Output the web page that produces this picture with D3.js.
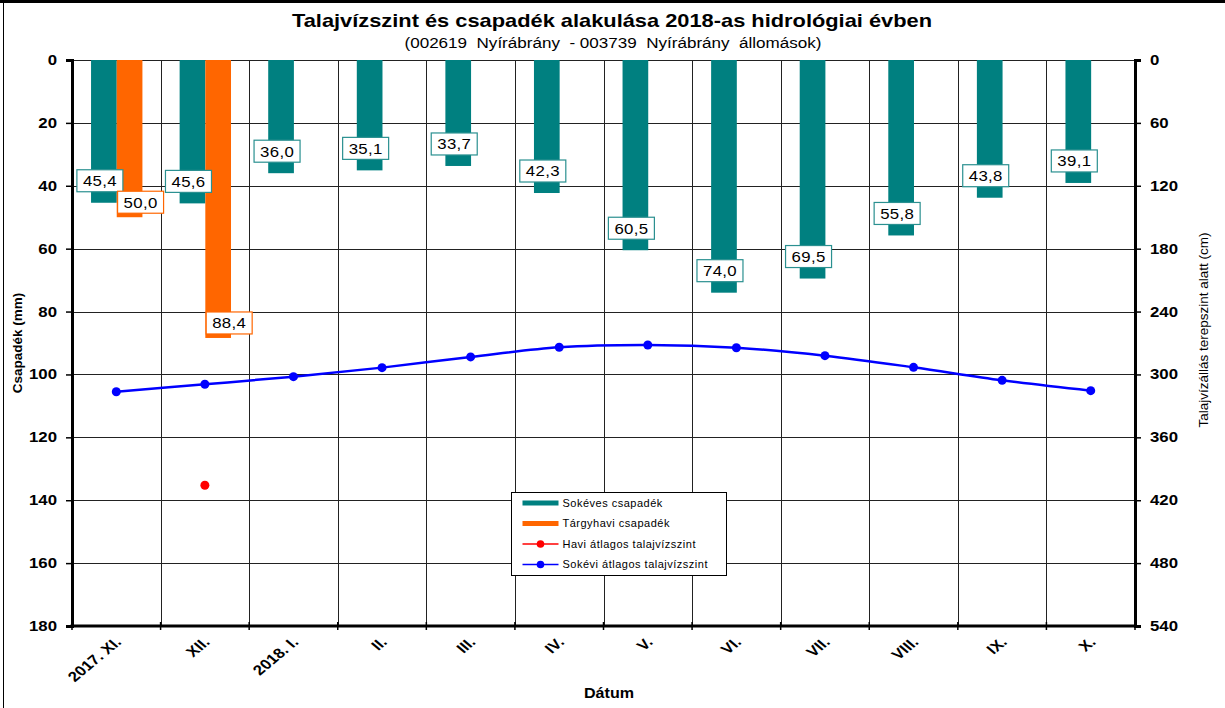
<!DOCTYPE html>
<html>
<head>
<meta charset="utf-8">
<script src="https://cdn.jsdelivr.net/npm/d3@7"></script>
<style>
  body { margin: 0; background: #fff; }
  svg { font-family: "Liberation Sans", Arial, sans-serif; }
</style>
</head>
<body>
<div id="chart"></div>
<script>
var w = 1225, h = 708;
var months = ['2017. XI.', 'XII.', '2018. I.', 'II.', 'III.', 'IV.', 'V.', 'VI.', 'VII.', 'VIII.', 'IX.', 'X.'];
var sokeves = [45.4, 45.6, 36.0, 35.1, 33.7, 42.3, 60.5, 74.0, 69.5, 55.8, 43.8, 39.1];   // mm
var targyhavi = [50.0, 88.4, null, null, null, null, null, null, null, null, null, null]; // mm
var haviSzint = [null, 405.7, null, null, null, null, null, null, null, null, null, null]; // cm
var sokeviSzint = [316.5, 309.4, 302.1, 293.5, 283.3, 274.1, 271.9, 274.5, 282.1, 293.2, 305.6, 315.5]; // cm
var leftTicks = [0, 20, 40, 60, 80, 100, 120, 140, 160, 180];
var rightTicks = [0, 60, 120, 180, 240, 300, 360, 420, 480, 540];

var m = { left: 72, right: 1135, top: 60, bottom: 626 };
var teal = '#008080', orange = '#ff6600';
var sx = 1.2; // the original picture is a bit stretched sideways

var svg = d3.select('#chart').append('svg').attr('width', w).attr('height', h);

// outer frame (top + left only visible)
svg.append('line').attr('x1', 0).attr('x2', w).attr('y1', 1.5).attr('y2', 1.5)
  .attr('stroke', '#000').attr('stroke-width', 3);
svg.append('line').attr('x1', 3.5).attr('x2', 3.5).attr('y1', 0).attr('y2', h)
  .attr('stroke', '#000').attr('stroke-width', 1);

var x = d3.scaleBand().domain(months).range([m.left, m.right]);
var bw = x.bandwidth();
var x1 = d3.scaleBand().domain(['s', 't']).range([bw * 0.215, bw * 0.795]);
var y = d3.scaleLinear().domain([0, 180]).range([m.top, m.bottom]);
var y2 = d3.scaleLinear().domain([0, 540]).range([m.top, m.bottom]);

// grid
svg.append('g').selectAll('line').data(leftTicks).enter().append('line')
  .attr('x1', m.left).attr('x2', m.right)
  .attr('y1', function(d) { return Math.round(y(d)) + 0.5; })
  .attr('y2', function(d) { return Math.round(y(d)) + 0.5; })
  .attr('stroke', '#222').attr('stroke-width', 1);
svg.append('g').selectAll('line').data(months.slice(1)).enter().append('line')
  .attr('x1', function(d) { return Math.round(x(d)) + 0.5; })
  .attr('x2', function(d) { return Math.round(x(d)) + 0.5; })
  .attr('y1', m.top).attr('y2', m.bottom)
  .attr('stroke', '#222').attr('stroke-width', 1);

// bars
var groups = svg.append('g').selectAll('g').data(months).enter().append('g')
  .attr('transform', function(d) { return 'translate(' + x(d) + ',0)'; });
groups.append('rect')
  .attr('x', x1('s')).attr('width', x1.bandwidth())
  .attr('y', y(0)).attr('height', function(d, i) { return y(sokeves[i]) - y(0); })
  .attr('fill', teal);
groups.filter(function(d, i) { return targyhavi[i] != null; }).append('rect')
  .attr('x', x1('t')).attr('width', x1.bandwidth())
  .attr('y', y(0)).attr('height', function(d) { return y(targyhavi[months.indexOf(d)]) - y(0); })
  .attr('fill', orange);

// axes
var left = svg.append('g').attr('transform', 'translate(' + m.left + ',0)')
  .call(d3.axisLeft(y).tickValues(leftTicks).tickSize(6).tickPadding(9));
var right = svg.append('g').attr('transform', 'translate(' + m.right + ',0)')
  .call(d3.axisRight(y2).tickValues(rightTicks).tickSize(6).tickPadding(9));
[left, right].forEach(function(a) {
  a.select('.domain').attr('stroke', '#000').attr('stroke-width', 3);
  a.selectAll('.tick line').attr('stroke', '#000').attr('stroke-width', 1.5);
  a.selectAll('.tick text').attr('font-size', 14).attr('font-weight', 'bold')
    .attr('font-family', '"Liberation Sans", Arial, sans-serif').attr('fill', '#000')
    .attr('x', function() { return +this.getAttribute('x') / sx; })
    .attr('transform', 'scale(' + sx + ',1)');
});
svg.append('line').attr('x1', m.left - 1.5).attr('x2', m.right + 1.5)
  .attr('y1', m.bottom).attr('y2', m.bottom).attr('stroke', '#000').attr('stroke-width', 3);
svg.append('g').selectAll('line').data(months.concat(['end'])).enter().append('line')
  .attr('x1', function(d, i) { return m.left + i * bw; })
  .attr('x2', function(d, i) { return m.left + i * bw; })
  .attr('y1', m.bottom - 4).attr('y2', m.bottom + 4)
  .attr('stroke', '#000').attr('stroke-width', 1.5);

// category labels
svg.append('g').selectAll('text').data(months).enter().append('text')
  .attr('transform', function(d) {
    return 'translate(' + (x(d) + bw / 2 + 6) + ',' + (m.bottom + 17) + ') scale(' + sx + ',1) rotate(-45)';
  })
  .attr('text-anchor', 'end').attr('font-size', 14).attr('font-weight', 'bold')
  .text(function(d) { return d; });

// lines
var line = d3.line()
  .x(function(d, i) { return x(months[i]) + bw / 2; })
  .y(function(d) { return y2(d); })
  .curve(d3.curveCatmullRom);
svg.append('path').attr('d', line(sokeviSzint)).attr('fill', 'none')
  .attr('stroke', '#0000ff').attr('stroke-width', 2.5);
svg.append('g').selectAll('circle').data(sokeviSzint).enter().append('circle')
  .attr('cx', function(d, i) { return x(months[i]) + bw / 2; })
  .attr('cy', function(d) { return y2(d); })
  .attr('r', 4.5).attr('fill', '#0000ff');
svg.append('g').selectAll('circle').data(haviSzint).enter()
  .filter(function(d) { return d != null; }).append('circle')
  .attr('cx', function(d) { return x(months[haviSzint.indexOf(d)]) + bw / 2; })
  .attr('cy', function(d) { return y2(d); })
  .attr('r', 4.5).attr('fill', '#ff0000');

// data labels
function label(cx, cy, v, col) {
  var g = svg.append('g').attr('transform', 'translate(' + cx + ',' + cy + ')');
  g.append('rect').attr('x', -23).attr('y', -11).attr('width', 46).attr('height', 22)
    .attr('fill', '#fff').attr('stroke', col).attr('stroke-width', 1.2);
  g.append('text').attr('text-anchor', 'middle').attr('dy', '0.36em')
    .attr('transform', 'scale(1.12,1)')
    .attr('font-size', 15).attr('letter-spacing', 0.3).attr('fill', '#000')
    .text(d3.format('.1f')(v).replace('.', ','));
}
months.forEach(function(mo, i) {
  label(x(mo) + x1('s') + x1.bandwidth() / 2 - 4, y(sokeves[i]) - 22, sokeves[i], '#2a9090');
  if (targyhavi[i] != null)
    label(x(mo) + x1('t') + x1.bandwidth() / 2 + 11, y(targyhavi[i]) - 15, targyhavi[i], orange);
});

// titles
svg.append('text').attr('x', 612).attr('y', 27).attr('text-anchor', 'middle')
  .attr('font-size', 19).attr('font-weight', 'bold')
  .attr('textLength', 640).attr('lengthAdjust', 'spacingAndGlyphs')
  .text('Talajvízszint és csapadék alakulása 2018-as hidrológiai évben');
svg.append('text').attr('x', 613).attr('y', 48).attr('text-anchor', 'middle')
  .attr('font-size', 14).style('white-space', 'pre')
  .attr('textLength', 417).attr('lengthAdjust', 'spacingAndGlyphs')
  .text('(002619  Nyírábrány  - 003739  Nyírábrány  állomások)');
svg.append('text').attr('transform', 'translate(609,698) scale(1.15,1)').attr('text-anchor', 'middle')
  .attr('font-size', 14).attr('font-weight', 'bold').text('Dátum');
svg.append('text').attr('transform', 'translate(22,343) rotate(-90)').attr('text-anchor', 'middle')
  .attr('font-size', 13.5).attr('font-weight', 'bold').text('Csapadék (mm)');
svg.append('text').attr('transform', 'translate(1208,330) rotate(-90)').attr('text-anchor', 'middle')
  .attr('font-size', 13.5).text('Talajvízállás terepszint alatt (cm)');

// legend
var leg = svg.append('g').attr('transform', 'translate(511.5,492.5)');
leg.append('rect').attr('width', 215).attr('height', 83).attr('fill', '#fff')
  .attr('stroke', '#000').attr('stroke-width', 1);
var items = [
  { name: 'Sokéves csapadék', col: teal, type: 'bar' },
  { name: 'Tárgyhavi csapadék', col: orange, type: 'bar' },
  { name: 'Havi átlagos talajvízszint', col: '#ff0000', type: 'line' },
  { name: 'Sokévi átlagos talajvízszint', col: '#0000ff', type: 'line' }
];
var li = leg.selectAll('g').data(items).enter().append('g')
  .attr('transform', function(d, i) { return 'translate(0,' + (10.5 + i * 20.5) + ')'; });
li.append('line').attr('x1', 11).attr('x2', 47).attr('y1', 0).attr('y2', 0)
  .attr('stroke', function(d) { return d.col; })
  .attr('stroke-width', function(d) { return d.type == 'bar' ? 5 : 1.5; });
li.filter(function(d) { return d.type == 'line'; }).append('circle')
  .attr('cx', 29).attr('cy', 0).attr('r', 3.8).attr('fill', function(d) { return d.col; });
li.append('text').attr('x', 51).attr('dy', '0.35em').attr('font-size', 11)
  .attr('letter-spacing', 0.5).text(function(d) { return d.name; });
</script>
</body>
</html>
